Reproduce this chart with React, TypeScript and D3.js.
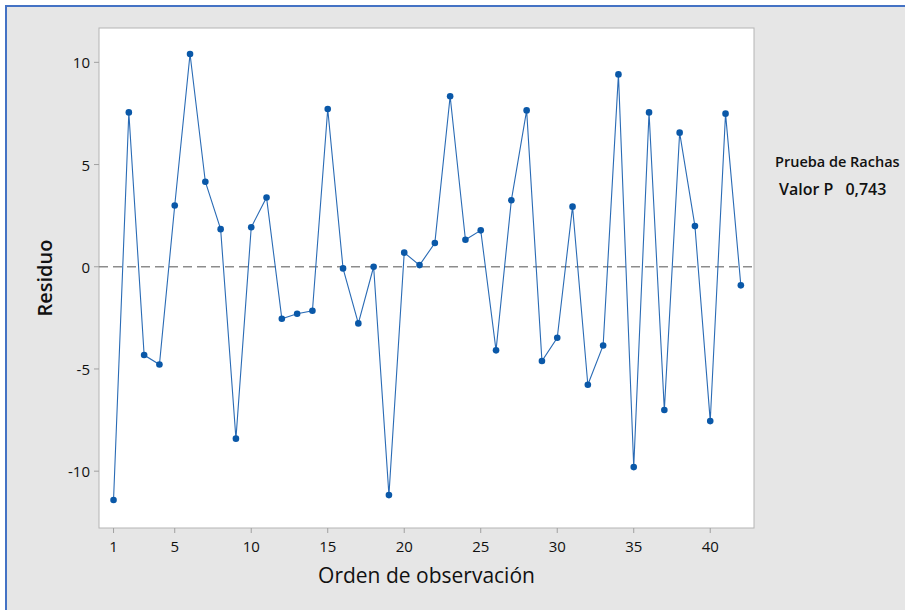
import React from "react";
import * as d3 from "d3";

const observations: number[] = d3.range(1, 43);
const residuals: number[] = [
  -11.41, 7.55, -4.32, -4.78, 3.0, 10.41, 4.16, 1.84, -8.41, 1.93,
  3.39, -2.54, -2.3, -2.15, 7.72, -0.08, -2.77, 0.0, -11.17, 0.69,
  0.08, 1.16, 8.34, 1.32, 1.78, -4.09, 3.25, 7.65, -4.61, -3.47,
  2.94, -5.77, -3.85, 9.41, -9.8, 7.55, -7.01, 6.56, 1.99, -7.55,
  7.49, -0.91,
];
const xTicks: number[] = [1, 5, 10, 15, 20, 25, 30, 35, 40];
const yTicks: number[] = [-10, -5, 0, 5, 10];
const xTitle = "Orden de observación";
const yTitle = "Residuo";
const legendTitle = "Prueba de Rachas";
const legendLabel = "Valor P";
const legendValue = "0,743";

const W = 905;
const H = 610;
const plot = { left: 99, top: 28, right: 754, bottom: 528 };
const FONT = "'Open Sans', 'Noto Sans', sans-serif";

export default function App() {
  const x = d3.scaleLinear().domain([0.05, 42.86]).range([plot.left, plot.right]);
  const y = d3.scaleLinear().domain([-12.78, 11.68]).range([plot.bottom, plot.top]);
  const data = observations.map((o, i) => ({ o, v: residuals[i] }));
  const line = d3
    .line<{ o: number; v: number }>()
    .x((d) => x(d.o))
    .y((d) => y(d.v));

  return (
    <svg
      width={W}
      height={H}
      style={{ position: "absolute", left: 0, top: 0, display: "block" }}
      fontFamily={FONT}
    >
      <rect x={0} y={0} width={W} height={H} fill="#ffffff" />
      <rect x={6} y={6} width={W + 10} height={H + 10} fill="#e6e6e6" stroke="#4472c4" strokeWidth={2} />
      <rect
        x={plot.left}
        y={plot.top}
        width={plot.right - plot.left}
        height={plot.bottom - plot.top}
        fill="#ffffff"
        stroke="#b4b4b4"
        strokeWidth={1}
      />
      <line
        x1={plot.left}
        x2={plot.right}
        y1={y(0)}
        y2={y(0)}
        stroke="#8c8c8c"
        strokeWidth={1.6}
        strokeDasharray="9,5"
      />
      {yTicks.map((t) => (
        <g key={"y" + t}>
          <line x1={plot.left - 5} x2={plot.left} y1={y(t)} y2={y(t)} stroke="#a0a0a0" />
          <text
            x={plot.left - 9}
            y={y(t)}
            textAnchor="end"
            dominantBaseline="central"
            fontSize={15}
            fontWeight={500}
            fill="#111"
          >
            {t}
          </text>
        </g>
      ))}
      {xTicks.map((t) => (
        <g key={"x" + t}>
          <line x1={x(t)} x2={x(t)} y1={plot.bottom} y2={plot.bottom + 5} stroke="#a0a0a0" />
          <text
            x={x(t)}
            y={546}
            textAnchor="middle"
            dominantBaseline="central"
            fontSize={15}
            fontWeight={500}
            fill="#111"
          >
            {t}
          </text>
        </g>
      ))}
      <text x={(plot.left + plot.right) / 2} y={575} textAnchor="middle" dominantBaseline="central" fontSize={21} fill="#111">
        {xTitle}
      </text>
      <text
        transform={`translate(44, ${(plot.top + plot.bottom) / 2}) rotate(-90)`}
        textAnchor="middle"
        dominantBaseline="central"
        fontSize={20}
        fontWeight={600}
        fill="#111"
      >
        {yTitle}
      </text>
      <path d={line(data) || ""} fill="none" stroke="#2a6bb5" strokeWidth={1.1} />
      {data.map((d) => (
        <circle key={d.o} cx={x(d.o)} cy={y(d.v)} r={3.3} fill="#0a58a8" />
      ))}
      <text x={775} y={161} dominantBaseline="central" fontSize={14.5} fontWeight={600} fill="#111">
        {legendTitle}
      </text>
      <text x={779} y={189} dominantBaseline="central" fontSize={16} fontWeight={600} fill="#111">
        {legendLabel}
        <tspan dx={12}>{legendValue}</tspan>
      </text>
    </svg>
  );
}
